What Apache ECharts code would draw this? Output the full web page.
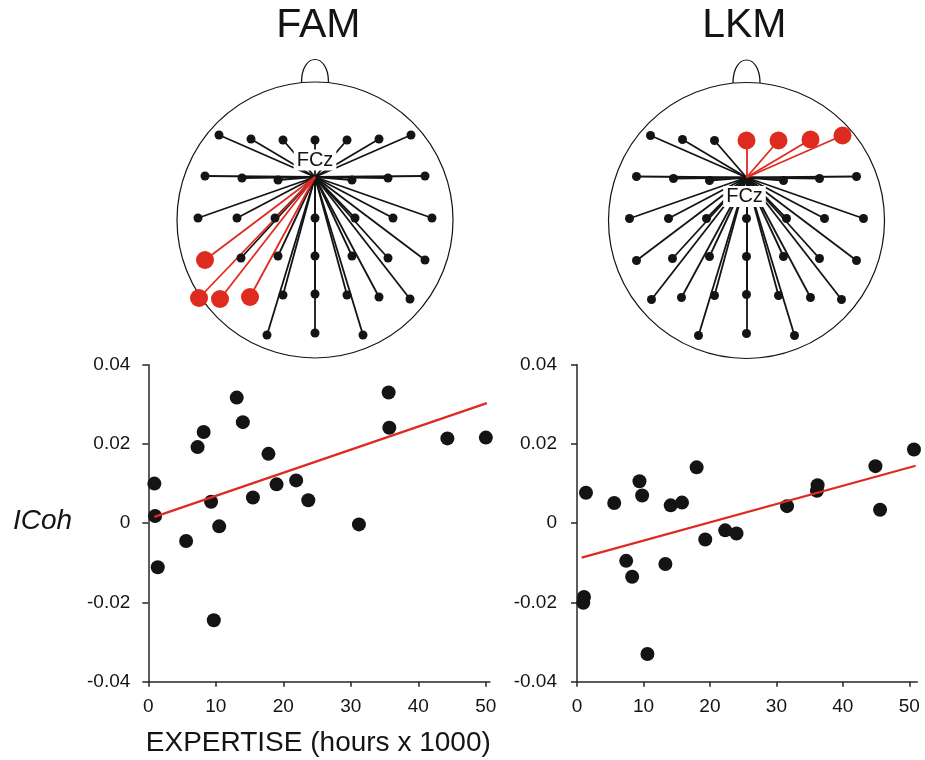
<!DOCTYPE html>
<html>
<head>
<meta charset="utf-8">
<style>
  html, body { margin: 0; padding: 0; background: #fff; }
  #chart { width: 925px; height: 760px; }
</style>
<script src="https://cdn.jsdelivr.net/npm/echarts@6/dist/echarts.min.js"></script>
</head>
<body>
<div id="chart"></div>
<script>
// ---- scatter data (EXPERTISE in hours x 1000, ICoh) ----
const famHours = [0.9, 1.0, 1.4, 5.6, 7.3, 8.2, 9.3, 9.7, 10.5, 13.1, 14.0, 15.5, 17.8, 19.0, 21.9, 23.7, 31.2, 35.6, 35.7, 44.3, 50.0];
const famICoh  = [0.0100, 0.0018, -0.0111, -0.0045, 0.0192, 0.0230, 0.0054, -0.0245, -0.0008, 0.0317, 0.0255, 0.0065, 0.0175, 0.0098, 0.0108, 0.0058, -0.0003, 0.0330, 0.0241, 0.0214, 0.0216];
const famFit   = [[0.9, 0.0016], [50.15, 0.0303]];

const lkmHours = [0.95, 1.05, 1.35, 5.6, 7.4, 8.3, 9.4, 9.8, 10.6, 13.3, 14.1, 15.8, 18.0, 19.3, 22.3, 24.0, 31.6, 36.1, 36.2, 44.9, 45.6, 50.7];
const lkmICoh  = [-0.0201, -0.0186, 0.0077, 0.0051, -0.0095, -0.0135, 0.0106, 0.0070, -0.0330, -0.0103, 0.0045, 0.0052, 0.0141, -0.0041, -0.0018, -0.0026, 0.0043, 0.0082, 0.0096, 0.0144, 0.0034, 0.0186];
const lkmFit   = [[0.7, -0.0087], [50.95, 0.0145]];

const xTicks = [0, 10, 20, 30, 40, 50];

// ---- head maps: electrode offsets from head centre (px, y down) ----
const montage = [
  [-96, -85], [-64, -81], [-32, -80], [0, -80], [32, -80], [64, -81], [96, -85],
  [-110, -44], [-73, -42], [-37, -40], [37, -40], [73, -42], [110, -44],
  [-117, -2], [-78, -2], [-40, -2], [0, -2], [40, -2], [78, -2], [117, -2],
  [-110, 40], [-74, 38], [-37, 36], [0, 36], [37, 36], [73, 38], [110, 40],
  [-95, 79], [-65, 77], [-32, 75], [0, 74], [32, 75], [64, 77], [95, 79],
  [-48, 115], [0, 113], [48, 115]
];
const famExtra = [[-116, 78]];
const famRed = [[-110, 40], [-116, 78], [-95, 79], [-65, 77]];
const lkmRed = [[0, -80], [32, -80], [64, -81], [96, -85]];
const hub = [0, -43];
const famLabelPos = [0, -60];
const lkmLabelPos = [-2, -24];

const FONT = "'Liberation Sans', Arial, sans-serif";
const RED = '#df2a20';
const INK = '#141414';

const chart = echarts.init(document.getElementById('chart'));

function isRed(p, reds) {
  return reds.some(r => r[0] === p[0] && r[1] === p[1]);
}

function headSeries(idx, points, reds, labelPos) {
  const black = points.filter(p => !isRed(p, reds));
  const axes = { xAxisIndex: idx, yAxisIndex: idx };
  return [
    { type: 'scatter', ...axes, silent: true, data: [[0, 0]], symbolSize: 276,
      itemStyle: { color: 'rgba(0,0,0,0)', borderColor: INK, borderWidth: 1.2, opacity: 1 }, z: 1 },
    { type: 'scatter', ...axes, silent: true, data: [[0, -149]],
      symbol: 'path://M0,100 C0,-30 100,-30 100,100', symbolSize: [27, 23],
      itemStyle: { color: 'rgba(0,0,0,0)', borderColor: INK, borderWidth: 1.2, opacity: 1 }, z: 1 },
    { type: 'lines', coordinateSystem: 'cartesian2d', ...axes, silent: true, z: 2,
      lineStyle: { color: INK, width: 1.8, opacity: 1 },
      data: black.map(p => ({ coords: [hub, p] })) },
    { type: 'lines', coordinateSystem: 'cartesian2d', ...axes, silent: true, z: 3,
      lineStyle: { color: RED, width: 1.8, opacity: 1 },
      data: reds.map(p => ({ coords: [hub, p] })) },
    { type: 'scatter', ...axes, silent: true, data: black, symbolSize: 9,
      itemStyle: { color: INK, opacity: 1 }, z: 4 },
    { type: 'scatter', ...axes, silent: true, data: reds, symbolSize: 18,
      itemStyle: { color: RED, opacity: 1 }, z: 5 },
    { type: 'scatter', ...axes, silent: true, data: [labelPos], symbolSize: 1,
      itemStyle: { color: 'rgba(0,0,0,0)', opacity: 1 }, z: 6,
      label: { show: true, position: 'inside', formatter: 'FCz', fontFamily: FONT,
        fontSize: 20, color: INK, backgroundColor: '#fff', padding: [1, 3, 0, 3] } }
  ];
}

function headAxes() {
  return { type: 'value', min: -150, max: 150, show: false };
}

function plotX(idx, max) {
  return {
    type: 'value', gridIndex: idx, min: 0, max: max,
    axisLine: { show: true, onZero: false, lineStyle: { color: '#262626', width: 1.5 } },
    axisTick: { show: true, length: 5, customValues: xTicks, lineStyle: { color: '#262626', width: 1.5 } },
    axisLabel: { customValues: xTicks, margin: 16, fontSize: 19, fontFamily: FONT, color: INK },
    splitLine: { show: false }
  };
}

function plotY(idx, margin) {
  return {
    type: 'value', gridIndex: idx, min: -0.04, max: 0.04, interval: 0.02,
    axisLine: { show: true, onZero: false, lineStyle: { color: '#262626', width: 1.5 } },
    axisTick: { show: true, length: 6, lineStyle: { color: '#262626', width: 1.5 } },
    axisLabel: { margin: margin, fontSize: 19, fontFamily: FONT, color: INK,
      formatter: v => String(+v.toFixed(2)) },
    splitLine: { show: false }
  };
}

const option = {
  backgroundColor: '#fff',
  animation: false,
  grid: [
    { left: 165, top: 70, width: 300, height: 300, outerBoundsMode: 'none' },
    { left: 596.5, top: 70.5, width: 300, height: 300, outerBoundsMode: 'none' },
    { left: 148.3, top: 364.7, width: 341.6, height: 317, outerBoundsMode: 'none' },
    { left: 577, top: 364.7, width: 340.3, height: 317, outerBoundsMode: 'none' }
  ],
  xAxis: [
    { ...headAxes(), gridIndex: 0 },
    { ...headAxes(), gridIndex: 1 },
    plotX(2, 50.6),
    plotX(3, 51.2)
  ],
  yAxis: [
    { ...headAxes(), gridIndex: 0, inverse: true },
    { ...headAxes(), gridIndex: 1, inverse: true },
    plotY(2, 18),
    plotY(3, 20)
  ],
  graphic: [
    { type: 'text', x: 318.3, y: 25.3, silent: true,
      style: { text: 'FAM', fontSize: 41, fontFamily: FONT, fill: INK, align: 'center', verticalAlign: 'middle' } },
    { type: 'text', x: 744.3, y: 25.3, silent: true,
      style: { text: 'LKM', fontSize: 41, fontFamily: FONT, fill: INK, align: 'center', verticalAlign: 'middle' } },
    { type: 'text', x: 13, y: 521, silent: true,
      style: { text: 'ICoh', fontSize: 28, fontStyle: 'italic', fontFamily: FONT, fill: INK, align: 'left', verticalAlign: 'middle' } },
    { type: 'text', x: 318.3, y: 743.3, silent: true,
      style: { text: 'EXPERTISE (hours x 1000)', fontSize: 28, fontFamily: FONT, fill: INK, align: 'center', verticalAlign: 'middle' } }
  ],
  series: [
    ...headSeries(0, montage.concat(famExtra), famRed, famLabelPos),
    ...headSeries(1, montage, lkmRed, lkmLabelPos),
    { type: 'scatter', xAxisIndex: 2, yAxisIndex: 2, symbolSize: 14, clip: false,
      itemStyle: { color: INK, opacity: 1 }, data: famHours.map((h, i) => [h, famICoh[i]]), z: 3 },
    { type: 'line', xAxisIndex: 2, yAxisIndex: 2, data: famFit, symbol: 'none',
      lineStyle: { color: RED, width: 2.2 }, z: 4 },
    { type: 'scatter', xAxisIndex: 3, yAxisIndex: 3, symbolSize: 14, clip: false,
      itemStyle: { color: INK, opacity: 1 }, data: lkmHours.map((h, i) => [h, lkmICoh[i]]), z: 3 },
    { type: 'line', xAxisIndex: 3, yAxisIndex: 3, data: lkmFit, symbol: 'none',
      lineStyle: { color: RED, width: 2.2 }, z: 4 }
  ]
};

chart.setOption(option);
</script>
</body>
</html>
